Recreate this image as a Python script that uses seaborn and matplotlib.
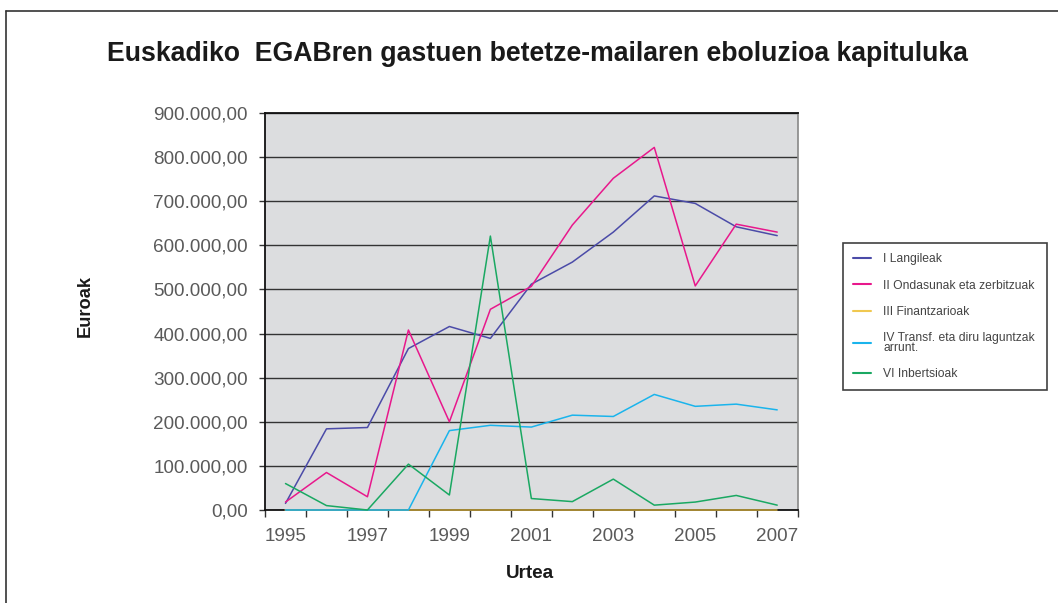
import matplotlib
matplotlib.use("Agg")
import matplotlib.pyplot as plt
import matplotlib.ticker as mticker
from matplotlib.lines import Line2D
import seaborn as sns
import pandas as pd

# ---- data ----
years = list(range(1995, 2008))
langileak = [15000, 184000, 187000, 366000, 416000, 389000, 512000, 562000, 630000, 712000, 695000, 642000, 622000]
ondasunak = [18000, 85000, 30000, 408000, 200000, 455000, 507000, 646000, 752000, 822000, 508000, 648000, 630000]
finantzarioak = [0, 0, 0, 0, 0, 0, 0, 0, 0, 0, 0, 0, 0]
transf = [0, 0, 0, 0, 180000, 192000, 188000, 215000, 212000, 262000, 235000, 240000, 227000]
inbertsioak = [60000, 10000, 0, 104000, 34000, 621000, 26000, 19000, 70000, 11000, 18000, 33000, 11000]

series_names = ["I Langileak", "II Ondasunak eta zerbitzuak", "III Finantzarioak",
                "IV Transf. eta diru laguntzak\narrunt.", "VI Inbertsioak"]
series_values = [langileak, ondasunak, finantzarioak, transf, inbertsioak]
colors = ["#4b4ba8", "#e8188c", "#c9a53a", "#1ab4ec", "#1aa862"]
legend_colors = ["#4b4ba8", "#e8188c", "#f0c850", "#1ab4ec", "#1aa862"]

title = "Euskadiko  EGABren gastuen betetze-mailaren eboluzioa kapituluka"
ylabel = "Euroak"
xlabel = "Urtea"
xtick_years = [1995, 1997, 1999, 2001, 2003, 2005, 2007]

rows = []
for name, vals in zip(series_names, series_values):
    for y, v in zip(years, vals):
        rows.append({"Urtea": y, "Euroak": v, "serie": name})
df = pd.DataFrame(rows)

sns.set_style("white")
plt.rcParams['font.family'] = ['Liberation Sans', 'DejaVu Sans']

fig = plt.figure(figsize=(10.58, 6.03), dpi=100)
fig.patch.set_facecolor("white")
ax = fig.add_axes([265 / 1058, 1 - 510 / 603, 532.7 / 1058, 397 / 603])
ax.set_facecolor("#dcdddf")

sns.lineplot(data=df, x="Urtea", y="Euroak", hue="serie", hue_order=series_names,
             palette=colors, linewidth=1.1, ax=ax, legend=False)
for ln in ax.get_lines():
    ln.set_clip_on(False)
    ln.set_zorder(3)

ax.set_xlim(1994.5, 2007.5)
ax.set_ylim(0, 900000)

# y axis
ax.yaxis.set_major_locator(mticker.MultipleLocator(100000))
def fmt(v, pos):
    s = f"{v:,.2f}"
    return s.replace(",", "X").replace(".", ",").replace("X", ".")
ax.yaxis.set_major_formatter(mticker.FuncFormatter(fmt))
ax.tick_params(axis="y", which="major", direction="out", length=4.3, width=1,
               color="#333333", labelsize=13.6, labelcolor="#5a5a5a", pad=8, left=True)
ax.grid(axis="y", color="#333333", linewidth=1.0)
ax.set_axisbelow(True)

# x axis: boundary ticks (major), labels on every second category (minor)
ax.xaxis.set_major_locator(mticker.FixedLocator([1994.5 + k for k in range(14)]))
ax.xaxis.set_major_formatter(mticker.NullFormatter())
ax.xaxis.set_minor_locator(mticker.FixedLocator(xtick_years))
ax.xaxis.set_minor_formatter(mticker.FixedFormatter([str(y) for y in xtick_years]))
ax.tick_params(axis="x", which="major", direction="out", length=5, width=1,
               color="#333333", bottom=True)
ax.tick_params(axis="x", which="minor", length=0, labelsize=13.6,
               labelcolor="#5a5a5a", pad=13, bottom=True)
ax.grid(axis="x", visible=False)
ax.set_xlabel("")
ax.set_ylabel("")

for side in ["left", "bottom", "top"]:
    ax.spines[side].set_visible(True)
    ax.spines[side].set_color("#111111")
    ax.spines[side].set_linewidth(1.3)
ax.spines["right"].set_visible(True)
ax.spines["right"].set_color("#888888")
ax.spines["right"].set_linewidth(1.2)

# titles / labels
fig.text(537 / 1058, 1 - 60.7 / 603, title, ha="center", va="baseline",
         fontsize=19.2, fontweight="bold", color="#1a1a1a")
fig.text(85 / 1058, 1 - 306 / 603, ylabel, ha="center", va="center",
         rotation=90, fontsize=13.2, fontweight="bold", color="#1a1a1a")
fig.text(530 / 1058, 1 - 573 / 603, xlabel, ha="center", va="center",
         fontsize=13.6, fontweight="bold", color="#1a1a1a")

# legend
handles = ax.get_lines()[:len(series_names)]
leg = ax.legend(handles, series_names, loc="upper left",
                bbox_to_anchor=(843 / 1058, 1 - 387 / 603, 204 / 1058, 144 / 603),
                bbox_transform=fig.transFigure, mode="expand", borderaxespad=0,
                fontsize=8.7, frameon=True, fancybox=False, handlelength=1.5,
                handletextpad=1.0, labelspacing=1.18, borderpad=0.85)
leg.get_frame().set_edgecolor("#111111")
leg.get_frame().set_linewidth(1.2)
leg.get_frame().set_facecolor("white")
for t in leg.get_texts():
    t.set_color("#444444")
    t.set_linespacing(0.75)
for lh, c in zip(leg.get_lines(), legend_colors):
    lh.set_color(c)
    lh.set_linewidth(1.5)

# outer frame (top and left edges visible)
fig.add_artist(Line2D([5.5 / 1058, 1.0], [1 - 10.5 / 603, 1 - 10.5 / 603],
                      transform=fig.transFigure, color="#333333", linewidth=1.2))
fig.add_artist(Line2D([5.5 / 1058, 5.5 / 1058], [0.0, 1 - 10.5 / 603],
                      transform=fig.transFigure, color="#333333", linewidth=1.2))

fig.savefig("out.png", dpi=100)
